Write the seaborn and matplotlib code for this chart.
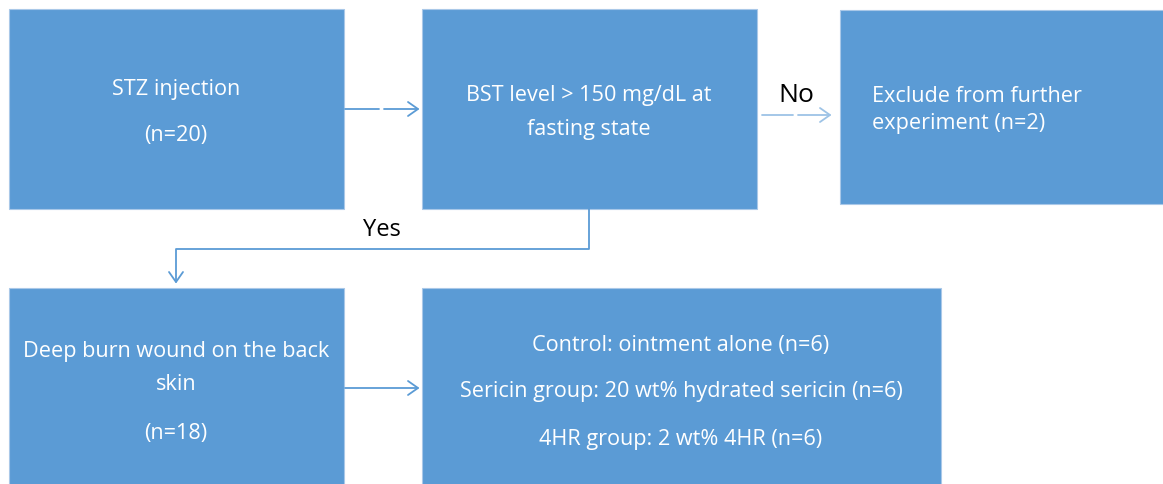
import numpy as np
import pandas as pd
import matplotlib.pyplot as plt
import seaborn as sns
from matplotlib.patches import Rectangle

# Flowchart text
step_lines = [
    ["STZ injection", "(n=20)"],
    ["BST level > 150 mg/dL at", "fasting state"],
    ["Exclude from further", "experiment (n=2)"],
    ["Deep burn wound on the back", "skin", "(n=18)"],
    ["Control: ointment alone (n=6)",
     "Sericin group: 20 wt% hydrated sericin (n=6)",
     "4HR group: 2 wt% 4HR (n=6)"],
]
decision_labels = ["No", "Yes"]

# Layout (pixel coordinates, y down)
boxes = [(9, 9, 335, 200), (422, 9, 335, 200), (840, 10, 330, 194),
         (9, 288, 335, 200), (422, 288, 519, 200)]
text_y = [[89, 135], [95, 129], [97, 123], [351, 384, 434], [345, 391, 439]]
text_x = [176, 589, 872, 176, 681]
text_ha = ["center", "center", "left", "center", "center"]

box_color = "#5b9bd5"
line_color = "#5b9bd5"
light_line = "#9dc3e6"

sns.set_theme(style="white")
plt.rcParams["font.family"] = ["Open Sans", "DejaVu Sans"]

fig = plt.figure(figsize=(11.63, 4.84), dpi=100)
ax = fig.add_axes([0, 0, 1, 1])
ax.set_xlim(0, 1163)
ax.set_ylim(484, 0)
ax.axis("off")

for (x, y, w, h) in boxes:
    ax.add_patch(Rectangle((x, y), w, h, facecolor=box_color,
                           edgecolor="#a9c8e8", linewidth=0.8))

for lines, ys, x, ha in zip(step_lines, text_y, text_x, text_ha):
    for txt, y in zip(lines, ys):
        ax.text(x, y, txt, color="white", fontsize=15.6, ha=ha, va="center")

def arrow(x0, x1, y, color, dashed=False):
    if dashed:
        mid = (x0 + x1) / 2
        ax.plot([x0, mid - 3], [y, y], color=color, lw=1.3)
        ax.plot([mid + 2, x1], [y, y], color=color, lw=1.3)
    else:
        ax.plot([x0, x1], [y, y], color=color, lw=1.3)
    ax.plot([x1 - 10, x1, x1 - 10], [y - 7, y, y + 7], color=color, lw=1.3)

arrow(345, 418, 109, line_color, dashed=True)
arrow(762, 830, 115, light_line, dashed=True)
arrow(345, 418, 388, line_color)

# Yes connector
ax.plot([589, 589, 176, 176], [209, 249, 249, 282], color=line_color, lw=1.3)
ax.plot([169, 176, 183], [272, 282, 272], color=line_color, lw=1.3)

ax.text(796, 95, decision_labels[0], color="black", fontsize=19, ha="center", va="center")
ax.text(382, 230, decision_labels[1], color="black", fontsize=17, ha="center", va="center")

fig.savefig("out.png", dpi=100)
